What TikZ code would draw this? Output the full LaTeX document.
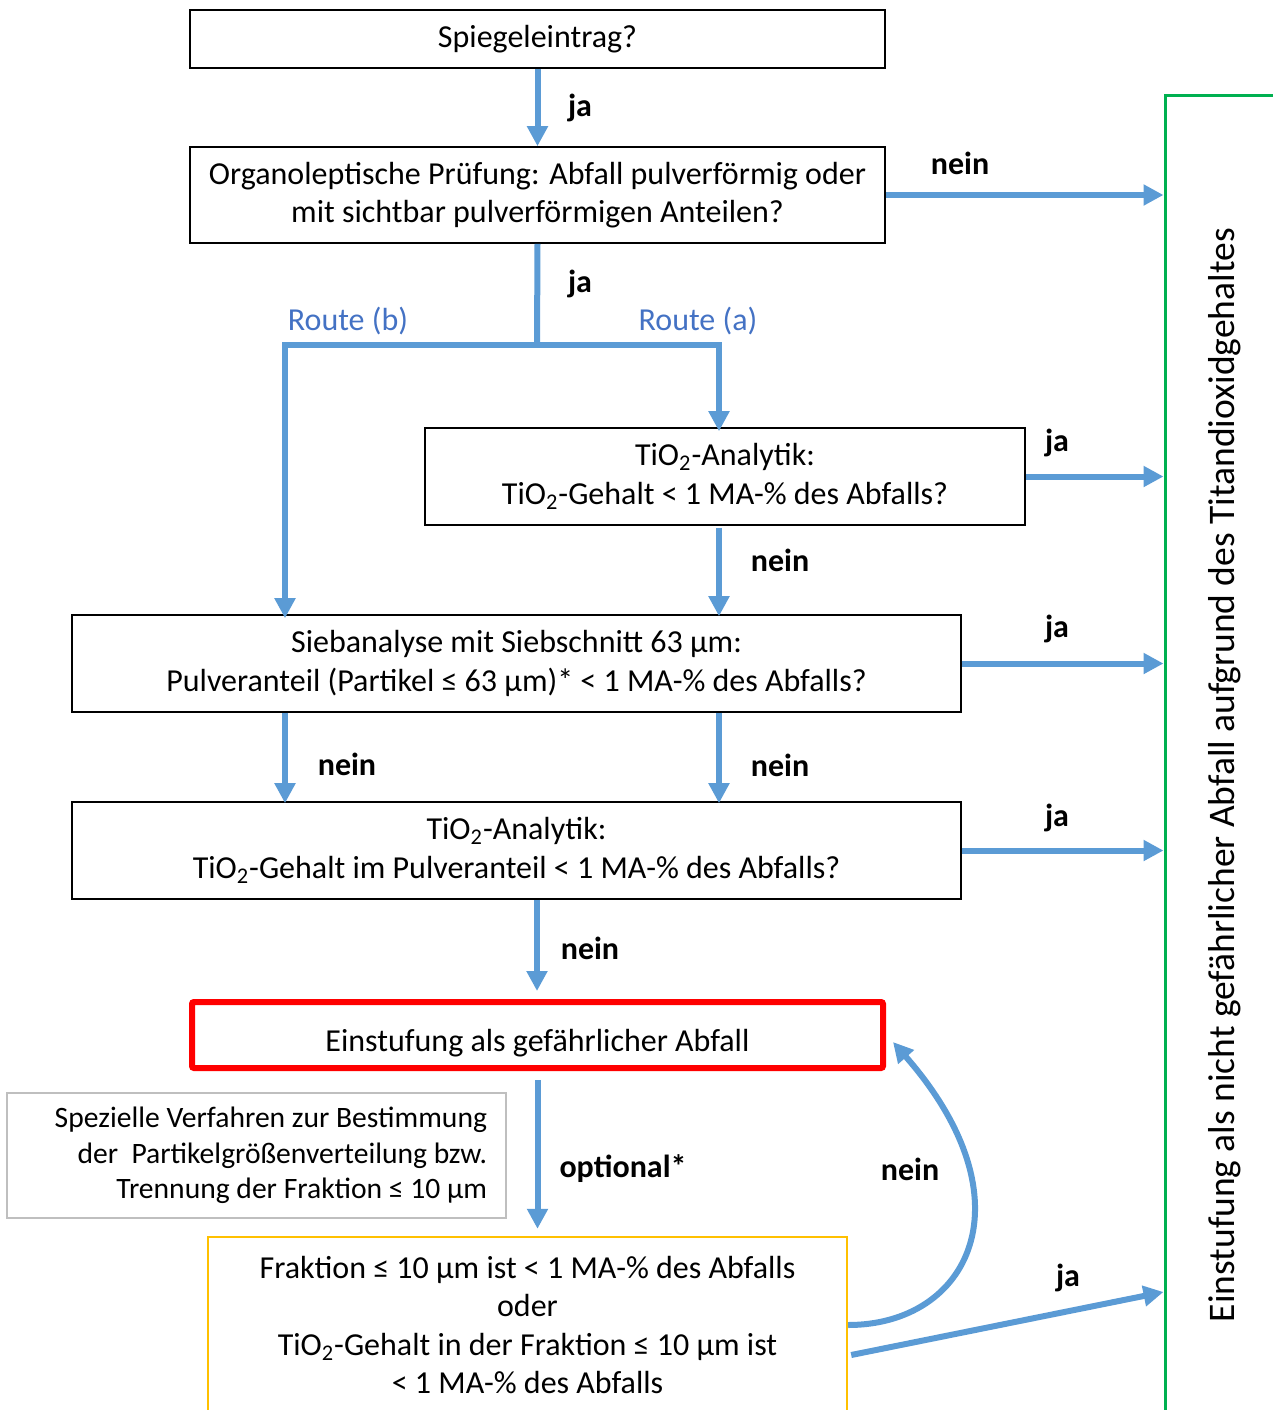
\documentclass[tikz,border=0pt]{standalone}
\usepackage{fontspec}
\setmainfont{Carlito}
\usepackage{tikz}
\usetikzlibrary{arrows.meta,positioning,calc}
\definecolor{flowblue}{RGB}{91,155,213}
\definecolor{routeblue}{RGB}{68,114,196}
\definecolor{hazred}{RGB}{255,0,0}
\definecolor{optyellow}{RGB}{255,192,0}
\definecolor{okgreen}{RGB}{0,176,80}
\definecolor{notegray}{RGB}{191,191,191}
\newcommand{\mainfs}{\fontsize{16pt}{19.25pt}\selectfont}
\newcommand{\notefs}{\fontsize{14.8pt}{17.75pt}\selectfont}
\newcommand{\resfs}{\fontsize{18.75pt}{22pt}\selectfont}
\newcommand{\tio}{TiO\textsubscript{2}}
\tikzset{
  box/.style={draw, line width=0.8pt, align=center, inner sep=0pt, font=\mainfs},
  hazbox/.style={box, draw=hazred, line width=3pt, rounded corners=1pt,
                 text height=20pt, text depth=3.5pt},
  optbox/.style={box, draw=optyellow, line width=1.2pt},
  notebox/.style={draw=notegray, line width=0.8pt, align=flush right, inner xsep=9.5pt,
                  text width=230.5pt, minimum height=62.5pt, font=\notefs},
  resbox/.style={draw=okgreen, line width=1.5pt, font=\resfs, rotate=90,
                 minimum width=680pt, minimum height=60pt},
  flow/.style={-{Triangle[length=10pt,width=10pt]}, line width=3pt, draw=flowblue},
  trunk/.style={line width=3pt, draw=flowblue},
  lbl/.style={font=\mainfs\bfseries},
  route/.style={font=\mainfs, text=routeblue},
}

\begin{document}
\begin{tikzpicture}[x=0.5pt, y=-0.5pt]
  \useasboundingbox (0,0) rectangle (1273,1410);
  \node[box, minimum width=347.5pt, minimum height=29pt] (eintrag) at (537.5,39) {Spiegeleintrag?};
  \node[box, minimum width=347.5pt, minimum height=48pt] (pruef) at (537.5,195)
    {Organoleptische Prüfung: Abfall pulverförmig oder\\mit sichtbar pulverförmigen Anteilen?};
  \node[box, minimum width=300pt, minimum height=48.5pt] (anaA) at (725,476.5)
    {\tio-Analytik:\\\tio-Gehalt < 1 MA-\% des Abfalls?};
  \node[box, minimum width=444.5pt, minimum height=48.5pt] (sieb) at (516.5,663.5)
    {Siebanalyse mit Siebschnitt 63 µm:\\Pulveranteil (Partikel ≤ 63 µm)* < 1 MA-\% des Abfalls?};
  \node[box, minimum width=444.5pt, minimum height=48.5pt] (anaB) at (516.5,850.5)
    {\tio-Analytik:\\\tio-Gehalt im Pulveranteil < 1 MA-\% des Abfalls?};
  \node[hazbox, minimum width=345.5pt, minimum height=33pt] (gef) at (537.5,1035)
    {Einstufung als gefährlicher Abfall};
  \node[notebox] (spez) at (256.5,1155.5)
    {Spezielle Verfahren zur Bestimmung\\der\ \ Partikelgrößenverteilung bzw.\\Trennung der Fraktion ≤ 10 µm};
  \node[optbox, minimum width=319.5pt, minimum height=88pt] (frak) at (527.5,1325)
    {Fraktion ≤ 10 µm ist < 1 MA-\% des Abfalls\\oder\\\tio-Gehalt in der Fraktion ≤ 10 µm ist\\< 1 MA-\% des Abfalls};
  \node[resbox] (ergebnis) at (1225,775)
    {Einstufung als nicht gefährlicher Abfall aufgrund des Titandioxidgehaltes};

  \coordinate (split) at (537,345);
  \coordinate (ra) at (719,345);
  \coordinate (rb) at (285,345);

  \draw[flow] (eintrag) -- (pruef);
  \node[lbl] (ja1) at (580,108) {ja};
  \draw[flow] (pruef.east) -- (pruef.east -| ergebnis.north);
  \node[lbl] (nein1) at (960,163) {nein};
  \draw[trunk] (pruef.south) -- (split);
  \node[lbl] (ja2) at (580,284) {ja};
  \draw[flow] (split) -| ([yshift=-2pt]ra |- anaA.north);
  \draw[flow] (split) -| ([yshift=-2pt]rb |- sieb.north);
  \node[route] (routeb) at (348,321) {Route (b)};
  \node[route] (routea) at (698,321) {Route (a)};

  \draw[flow] (anaA.east) -- (anaA.east -| ergebnis.north);
  \node[lbl] (ja3) at (1057,443) {ja};
  \draw[flow] ([yshift=-1pt]ra |- anaA.south) -- ([yshift=-1pt]ra |- sieb.north);
  \node[lbl] (nein2) at (780,560) {nein};

  \draw[flow] (sieb.east) -- (sieb.east -| ergebnis.north);
  \node[lbl] (ja4) at (1057,629) {ja};
  \draw[flow] (rb |- sieb.south) -- ([yshift=-1pt]rb |- anaB.north);
  \node[lbl] (nein3) at (347,764) {nein};
  \draw[flow] (ra |- sieb.south) -- ([yshift=-1pt]ra |- anaB.north);
  \node[lbl] (nein4) at (780,765) {nein};

  \draw[flow] (anaB.east) -- (anaB.east -| ergebnis.north);
  \node[lbl] (ja5) at (1057,818) {ja};
  \draw[flow, shorten >=4pt] (split |- anaB.south) -- (split |- gef.north);
  \node[lbl] (nein5) at (590,948) {nein};

  \draw[flow, shorten <=4.5pt, shorten >=3.5pt] (gef.south) -- (gef.south |- frak.north);
  \node[lbl] (opt) at (623,1169) {optional*};

  \draw[flow] (frak.east) .. controls +(120,0) and +(140,160) .. ([xshift=3.5pt,yshift=-3.5pt]gef.east);
  \node[lbl] (nein6) at (910,1169) {nein};
  \draw[flow] ([xshift=1.5pt,yshift=-15pt]frak.east) -- ($(frak.east -| ergebnis.north)+(0,-33)$);
  \node[lbl] (ja6) at (1068,1278) {ja};
\end{tikzpicture}
\end{document}
